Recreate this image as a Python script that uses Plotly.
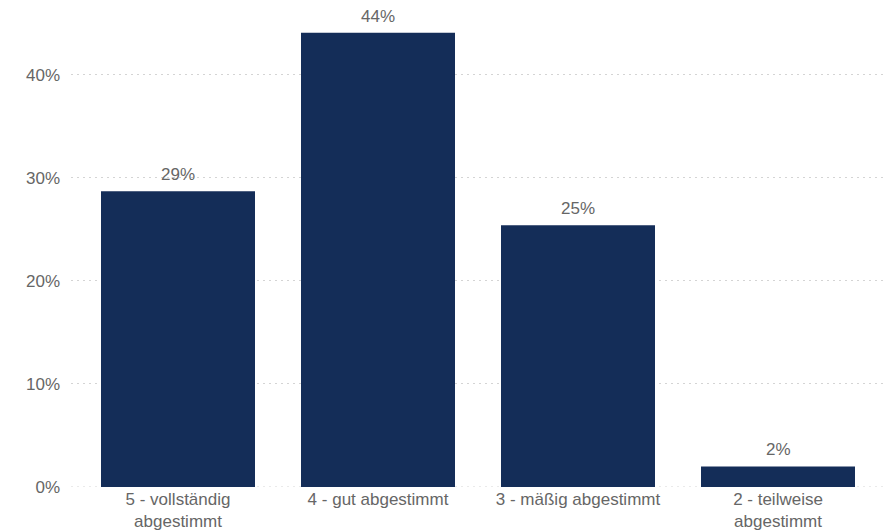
import plotly.graph_objects as go

# Category labels and shares (percent)
categories = ["5 - vollständig<br>abgestimmt", "4 - gut abgestimmt",
              "3 - mäßig abgestimmt", "2 - teilweise<br>abgestimmt"]
shares = [28.7, 44.1, 25.4, 2.0]
tick_values = [0, 10, 20, 30, 40]
tick_labels = ["0%", "10%", "20%", "30%", "40%"]

BAR_COLOR = "#142d58"
TEXT_COLOR = "#666666"
GRID_COLOR = "#d4d4d4"
FONT = "Liberation Sans, Arial, sans-serif"
FONT_SIZE = 17

fig = go.Figure()
fig.add_trace(go.Bar(
    x=list(range(len(categories))),
    y=shares,
    marker=dict(color=BAR_COLOR, line=dict(width=0)),
    hoverinfo="skip",
))

# Value labels above each bar
for i, v in enumerate(shares):
    fig.add_annotation(
        x=i, y=v, text=f"{round(v):d}%", showarrow=False,
        yanchor="bottom", yshift=5,
        font=dict(family=FONT, size=FONT_SIZE, color=TEXT_COLOR),
    )

# Dotted baseline at 0%
fig.add_shape(
    type="line", xref="paper", yref="y", x0=0, x1=1, y0=0, y1=0,
    line=dict(color=GRID_COLOR, width=1, dash="2px,4px"), layer="below",
)

fig.update_layout(
    width=886, height=532,
    margin=dict(l=71, r=1, t=10, b=45),
    paper_bgcolor="white", plot_bgcolor="white",
    bargap=0.23,
    showlegend=False,
    font=dict(family=FONT, size=FONT_SIZE, color=TEXT_COLOR),
)
fig.update_xaxes(
    range=[-0.535, 3.535],
    tickmode="array",
    tickvals=list(range(len(categories))),
    ticktext=categories,
    showgrid=False, zeroline=False, showline=False,
    ticks="", tickfont=dict(family=FONT, size=FONT_SIZE, color=TEXT_COLOR),
)
fig.update_yaxes(
    range=[0, 46.3],
    tickmode="array",
    tickvals=tick_values,
    ticktext=tick_labels,
    showgrid=True, gridcolor=GRID_COLOR, gridwidth=1, griddash="2px,4px",
    zeroline=False, showline=False, ticks="",
    ticklabelstandoff=10,
    tickfont=dict(family=FONT, size=FONT_SIZE, color=TEXT_COLOR),
)

fig.write_html("out.html")
